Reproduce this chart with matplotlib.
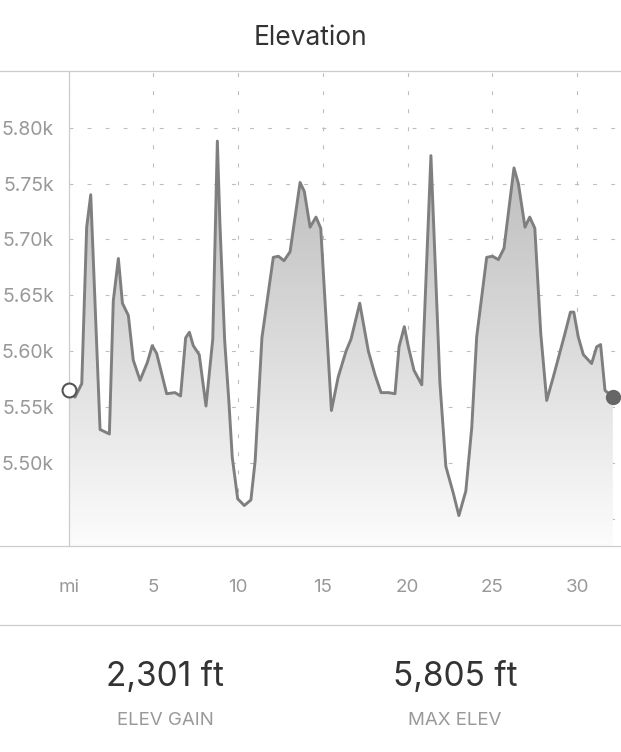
"""
Elevation profile card: gradient-filled line with gain / max stats below
"""

import matplotlib
matplotlib.use("Agg")
import numpy as np
import matplotlib.pyplot as plt
from matplotlib.lines import Line2D
from matplotlib.patches import Polygon
from matplotlib.colors import LinearSegmentedColormap

plt.rcParams['font.family'] = ['Inter', 'DejaVu Sans']
plt.rcParams['lines.scale_dashes'] = False

# distance along the route (mi) and elevation (ft)
dist = [0.0, 0.37, 0.77, 1.06, 1.30, 1.85, 2.40, 2.63, 2.93, 3.17,
        3.52, 3.81, 4.21, 4.64, 4.93, 5.19, 5.78, 6.27, 6.60, 6.90,
        7.12, 7.35, 7.70, 8.10, 8.50, 8.77, 8.92, 9.20, 9.45, 9.65,
        9.97, 10.36, 10.75, 11.00, 11.40, 12.07, 12.37, 12.70, 13.06, 13.65,
        13.90, 14.24, 14.59, 14.87, 15.50, 15.90, 16.36, 16.66, 17.17, 17.68,
        18.07, 18.43, 18.86, 19.25, 19.49, 19.80, 20.04, 20.37, 20.83, 21.37,
        21.90, 22.25, 22.69, 23.02, 23.43, 23.78, 24.07, 24.66, 25.00, 25.35,
        25.68, 26.27, 26.53, 26.92, 27.20, 27.50, 27.85, 28.20, 28.59, 29.28,
        29.60, 29.80, 30.06, 30.36, 30.85, 31.15, 31.38, 31.64, 32.10]
elev = [5565, 5559, 5571, 5711, 5740, 5530, 5526, 5645, 5683, 5643,
        5632, 5592, 5574, 5590, 5605, 5598, 5562, 5563, 5560, 5612,
        5617, 5605, 5597, 5551, 5611, 5788, 5715, 5610, 5555, 5505,
        5468, 5462, 5467, 5502, 5612, 5684, 5685, 5681, 5689, 5751,
        5743, 5711, 5720, 5710, 5547, 5577, 5600, 5611, 5643, 5600,
        5579, 5563, 5563, 5562, 5604, 5622, 5604, 5583, 5570, 5775,
        5572, 5497, 5473, 5453, 5475, 5532, 5613, 5684, 5685, 5682,
        5692, 5764, 5750, 5711, 5720, 5710, 5616, 5556, 5577, 5616,
        5635, 5635, 5613, 5597, 5589, 5604, 5606, 5565, 5559]

y_ticks = [5450, 5500, 5550, 5600, 5650, 5700, 5750, 5800]
y_labels = ['', '5.50k', '5.55k', '5.60k', '5.65k', '5.70k', '5.75k', '5.80k']
x_ticks = [0, 5, 10, 15, 20, 25, 30]
x_labels = ['mi', '5', '10', '15', '20', '25', '30']

stat_values = ['2,301 ft', '5,805 ft']
stat_names = ['ELEV GAIN', 'MAX ELEV']

W, H = 621, 752
fig = plt.figure(figsize=(W / 100, H / 100), dpi=100)

# axes placed in pixel terms
ax_left, ax_top, ax_bottom = 68.7, 71, 546
ax = fig.add_axes([ax_left / W, 1 - ax_bottom / H, 1 - ax_left / W, (ax_bottom - ax_top) / H])
ymin, ymax = 5425.8, 5850.7
ax.set_xlim(0, (W - ax_left) / 16.95)
ax.set_ylim(ymin, ymax)

# gradient fill clipped to the area under the line
verts = [(dist[0], ymin)] + list(zip(dist, elev)) + [(dist[-1], ymin)]
area = Polygon(verts, closed=True, fc='none', ec='none')
ax.add_patch(area)
cmap = LinearSegmentedColormap.from_list('fade', ['#bababa', '#fcfcfc'])
grad = np.linspace(0, 1, 256).reshape(-1, 1)
im = ax.imshow(grad, cmap=cmap, aspect='auto', origin='upper',
               extent=[dist[0], dist[-1], ymin, max(elev)], zorder=1)
im.set_clip_path(area)

ax.plot(dist, elev, color='#7f7f7f', lw=2.1, zorder=3)
ax.plot(dist[0], elev[0], 'o', ms=10, mfc='white', mec='#555555', mew=1.5,
        clip_on=False, zorder=4)
ax.plot(dist[-1], elev[-1], 'o', ms=10, color='#666666', clip_on=False, zorder=4)

# grid and ticks
ax.set_yticks(y_ticks)
ax.set_yticklabels(y_labels)
ax.set_xticks(x_ticks)
ax.set_xticklabels(x_labels)
ax.tick_params(length=0, labelcolor='#999999')
ax.tick_params(axis='y', pad=10.5, labelsize=14)
ax.tick_params(axis='x', pad=24, labelsize=13.5)
ax.grid(True, color='#bdbdbd', lw=0.8, linestyle=(0, (2.8, 10.2)), zorder=0)
ax.set_axisbelow(True)
for side in ['top', 'right', 'bottom']:
    ax.spines[side].set_visible(False)
ax.spines['left'].set_color('#cccccc')
ax.spines['left'].set_linewidth(0.9)

# full-width rules
for yp in [ax_top, ax_bottom, 625]:
    fig.add_artist(Line2D([0, 1], [1 - yp / H, 1 - yp / H], color='#cccccc', lw=0.9))

fig.text(310 / W, 1 - 45 / H, 'Elevation', ha='center', va='baseline',
         fontsize=19, color='#333333')

for cx, val, name in zip([165, 455], stat_values, stat_names):
    fig.text(cx / W, 1 - 685.5 / H, val, ha='center', va='baseline',
             fontsize=24, color='#333333')
    fig.text(cx / W, 1 - 725 / H, name, ha='center', va='baseline',
             fontsize=13.5, color='#999999')

fig.savefig('out.png', dpi=100, facecolor='white')
